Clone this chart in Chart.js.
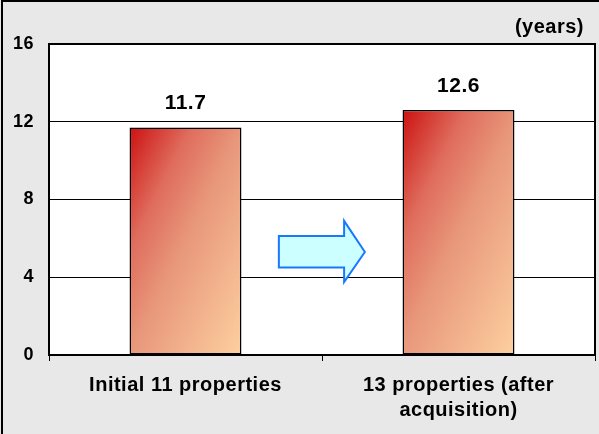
<!DOCTYPE html>
<html>
<head>
<meta charset="utf-8">
<script src="https://cdn.jsdelivr.net/npm/chart.js"></script>
<style>
  html, body { margin: 0; padding: 0; background: #e8e8e8; }
  #wrap { width: 599px; height: 434px; }
</style>
</head>
<body>
<div id="wrap"><canvas id="avgAge" width="599" height="434"></canvas></div>
<script>
// average building age, before and after the acquisition
const categories = [['Initial 11 properties'], ['13 properties (after', 'acquisition)']];
const ageValues = [11.7, 12.6];
const yTicks = [0, 4, 8, 12, 16];
const unitLabel = '(years)';

const FONT = 'Arial, "Liberation Sans", sans-serif';
const BAR_PCT = 0.41;

function barGradient(context) {
  const chart = context.chart;
  const { x, y } = chart.scales;
  if (!x || !y || !chart.chartArea) return '#e4907a';
  const i = context.dataIndex;
  const cx = x.getPixelForValue(i);
  const w = x.width / categories.length * BAR_PCT;
  const left = cx - w / 2;
  const top = y.getPixelForValue(ageValues[i]);
  const h = y.getPixelForValue(0) - top;
  // shallow diagonal, dark red at top-left to peach at bottom-right
  const s = (w + 0.5 * h) / 1.25;
  const g = chart.ctx.createLinearGradient(left, top, left + s, top + 0.5 * s);
  g.addColorStop(0, '#cc1111');
  g.addColorStop(0.27, '#df6c5c');
  g.addColorStop(0.5, '#e8977b');
  g.addColorStop(1, '#fdd0a0');
  return g;
}

// page frame, white plot box and its border
const frame = {
  id: 'frame',
  beforeDraw(chart) {
    const { ctx, chartArea: a } = chart;
    ctx.save();
    ctx.fillStyle = '#e8e8e8';
    ctx.fillRect(0, 0, chart.width, chart.height);
    ctx.strokeStyle = '#000';
    ctx.lineWidth = 2;
    ctx.strokeRect(2, 1, chart.width + 4, chart.height + 4);
    ctx.fillStyle = '#fff';
    ctx.fillRect(a.left, a.top, a.right - a.left, a.bottom - a.top);
    ctx.restore();
    ctx.letterSpacing = '0.5px';
  },
  afterDraw(chart) {
    const { ctx, chartArea: a } = chart;
    ctx.save();
    ctx.strokeStyle = '#000';
    ctx.lineWidth = 2;
    ctx.strokeRect(a.left, a.top, a.right - a.left, a.bottom - a.top);
    ctx.restore();
  }
};

// value labels above the bars, unit label, and the arrow between bars
const labels = {
  id: 'labels',
  afterDatasetsDraw(chart) {
    const { ctx, chartArea: a } = chart;
    const { x, y } = chart.scales;
    ctx.save();
    ctx.letterSpacing = '0.5px';
    ctx.fillStyle = '#000';
    ctx.font = 'bold 21px ' + FONT;
    ctx.textAlign = 'center';
    ctx.textBaseline = 'middle';
    ageValues.forEach((v, i) => {
      ctx.fillText(v.toFixed(1), x.getPixelForValue(i), y.getPixelForValue(v) - 24);
    });
    ctx.font = 'bold 20px ' + FONT;
    ctx.textAlign = 'right';
    ctx.fillText(unitLabel, a.right - 11, a.top - 17);

    // arrow, placed in axis units between the two categories
    const px = (v) => x.getPixelForValue(v);
    const py = (v) => y.getPixelForValue(v);
    ctx.beginPath();
    ctx.moveTo(px(0.342), py(6.12));
    ctx.lineTo(px(0.581), py(6.12));
    ctx.lineTo(px(0.581), py(6.9));
    ctx.lineTo(px(0.657), py(5.3));
    ctx.lineTo(px(0.581), py(3.75));
    ctx.lineTo(px(0.581), py(4.5));
    ctx.lineTo(px(0.342), py(4.5));
    ctx.closePath();
    ctx.fillStyle = '#ccffff';
    ctx.fill();
    ctx.strokeStyle = '#1a78ff';
    ctx.lineWidth = 2;
    ctx.stroke();
    ctx.restore();
  }
};

new Chart(document.getElementById('avgAge'), {
  type: 'bar',
  data: {
    labels: categories,
    datasets: [{
      data: ageValues,
      backgroundColor: barGradient,
      borderColor: '#000',
      borderWidth: 1.5,
      borderSkipped: false,
      barPercentage: BAR_PCT,
      categoryPercentage: 1
    }]
  },
  options: {
    responsive: false,
    animation: false,
    layout: { padding: { top: 44, right: 4, left: 0, bottom: 0 } },
    plugins: { legend: { display: false }, tooltip: { enabled: false } },
    scales: {
      x: {
        offset: true,
        grid: { display: true, drawOnChartArea: false, drawTicks: true, tickLength: 6, color: '#000', offset: true },
        border: { display: false },
        ticks: { color: '#000', font: { family: FONT, size: 20, weight: 'bold', lineHeight: 1.25 }, padding: 12, maxRotation: 0, autoSkip: false },
        afterFit(scale) { scale.height = 79; }
      },
      y: {
        min: 0,
        max: 16,
        afterBuildTicks(scale) { scale.ticks = yTicks.map(v => ({ value: v })); },
        grid: { color: '#000', lineWidth: 1, drawTicks: false },
        border: { display: false },
        ticks: { color: '#000', font: { family: FONT, size: 18, weight: 'bold' }, padding: 15 },
        afterFit(scale) { scale.width = 49; }
      }
    }
  },
  plugins: [frame, labels]
});
</script>
</body>
</html>
